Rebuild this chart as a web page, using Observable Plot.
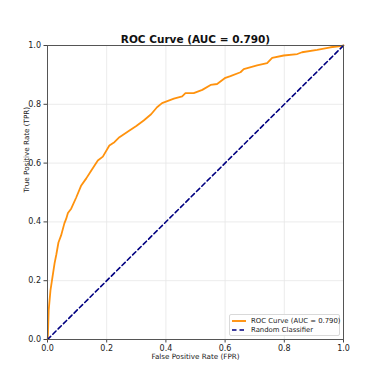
<!DOCTYPE html>
<html>
<head>
<meta charset="utf-8">
<script src="https://cdn.jsdelivr.net/npm/d3@7"></script>
<script src="https://cdn.jsdelivr.net/npm/@observablehq/plot@0.6"></script>
<style>
  html, body { margin: 0; padding: 0; background: #fff; }
  #wrap { position: relative; width: 381px; height: 381px; font-family: "DejaVu Sans", sans-serif; }
  #legend { position: absolute; left: 229px; top: 314px; width: 111px; height: 22px; border: 1px solid #d9d9d9; border-radius: 2px; background: rgba(255,255,255,0.85); font-size: 6.9px; color: #222; box-sizing: border-box; }
  .row { position: absolute; left: 2px; height: 8px; display: flex; align-items: center; white-space: nowrap; line-height: 8px; }
  .row svg { margin-right: 5px; }
</style>
</head>
<body>
<div id="wrap"></div>
<script>
const titleText = "ROC Curve (AUC = 0.790)";
const xLabel = "False Positive Rate (FPR)";
const yLabel = "True Positive Rate (TPR)";
const rocLabel = "ROC Curve (AUC = 0.790)";
const randLabel = "Random Classifier";
const ticks = [0, 0.2, 0.4, 0.6, 0.8, 1.0];

const fpr = [0, 0.001, 0.004, 0.010, 0.015, 0.024, 0.030, 0.037, 0.046, 0.057, 0.063, 0.069, 0.080, 0.097, 0.114, 0.131, 0.148, 0.170, 0.187, 0.209, 0.226, 0.243, 0.277, 0.300, 0.325, 0.350, 0.370, 0.387, 0.427, 0.455, 0.466, 0.494, 0.523, 0.551, 0.573, 0.601, 0.618, 0.652, 0.663, 0.708, 0.742, 0.759, 0.798, 0.844, 0.860, 0.911, 0.956, 0.990, 1.0];
const tpr = [0, 0.004, 0.099, 0.167, 0.200, 0.260, 0.290, 0.330, 0.354, 0.395, 0.410, 0.430, 0.445, 0.483, 0.524, 0.548, 0.575, 0.609, 0.622, 0.660, 0.671, 0.688, 0.711, 0.726, 0.745, 0.766, 0.790, 0.804, 0.819, 0.827, 0.838, 0.838, 0.849, 0.866, 0.869, 0.890, 0.896, 0.909, 0.920, 0.932, 0.940, 0.958, 0.966, 0.971, 0.977, 0.985, 0.994, 0.998, 1.0];
const diagX = [0, 1];
const diagY = [0, 1];

const roc = fpr.map((f, i) => ({fpr: f, tpr: tpr[i]}));
const diag = diagX.map((d, i) => ({x: d, y: diagY[i]}));

const plot = Plot.plot({
  width: 381,
  height: 381,
  marginLeft: 47,
  marginRight: 38,
  marginTop: 45,
  marginBottom: 42,
  style: {fontFamily: "DejaVu Sans, sans-serif", fontSize: "8px", color: "#222", background: "#fff"},
  x: {domain: [0, 1], ticks: ticks, tickFormat: d3.format(".1f"), label: null},
  y: {domain: [0, 1], ticks: ticks, tickFormat: d3.format(".1f"), label: null},
  marks: [
    Plot.gridX(ticks, {stroke: "#e6e6e6", strokeOpacity: 1, strokeWidth: 0.8}),
    Plot.gridY(ticks, {stroke: "#e6e6e6", strokeOpacity: 1, strokeWidth: 0.8}),
    Plot.axisX(ticks, {tickSize: 3.5, tickPadding: 2, tickFormat: d3.format(".1f"), stroke: "#444", fill: "#222", fontSize: 8}),
    Plot.axisY(ticks, {tickSize: 3.5, tickPadding: 3, tickFormat: d3.format(".1f"), stroke: "#444", fill: "#222", fontSize: 8}),
    Plot.line(roc, {x: "fpr", y: "tpr", stroke: "#ff8c00", strokeWidth: 1.8, strokeOpacity: 0.95}),
    Plot.line(diag, {x: "x", y: "y", stroke: "#000080", strokeWidth: 1.6, strokeDasharray: "4.5,3"}),
    Plot.frame({stroke: "#555", strokeWidth: 1}),
    Plot.text([titleText], {frameAnchor: "top", lineAnchor: "bottom", dy: -3, fontWeight: "bold", fontSize: 10.5, fill: "#111"}),
    Plot.text([xLabel], {frameAnchor: "bottom", lineAnchor: "top", dy: 14, fontSize: 7.2, fill: "#222"}),
    Plot.text([yLabel], {frameAnchor: "left", dx: -21, rotate: -90, fontSize: 7.2, fill: "#222"})
  ]
});

const wrap = document.getElementById("wrap");
wrap.appendChild(plot);

const legend = document.createElement("div");
legend.id = "legend";
legend.innerHTML = `
  <div class="row" style="top:2px"><svg width="14" height="6"><line x1="0" y1="3" x2="14" y2="3" stroke="#ff8c00" stroke-width="1.8"/></svg><span>${rocLabel}</span></div>
  <div class="row" style="top:11px"><svg width="14" height="6"><line x1="0" y1="3" x2="14" y2="3" stroke="#000080" stroke-width="1.6" stroke-dasharray="4.5,3"/></svg><span>${randLabel}</span></div>`;
wrap.appendChild(legend);
</script>
</body>
</html>
